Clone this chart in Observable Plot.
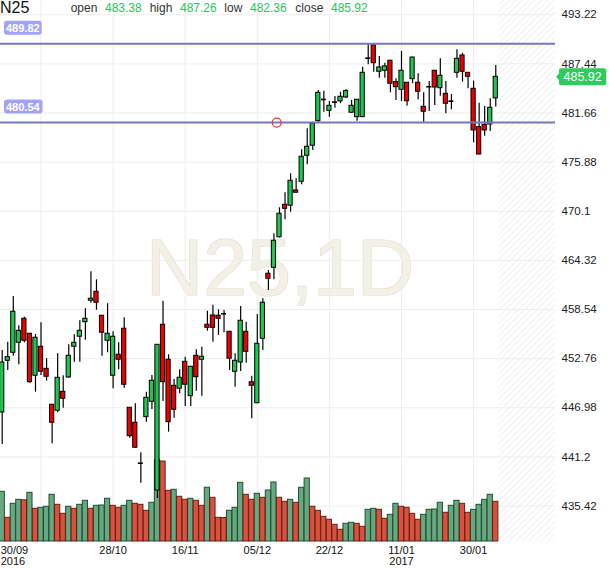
<!DOCTYPE html>
<html><head><meta charset="utf-8">
<script src="https://cdn.jsdelivr.net/npm/d3@7"></script>
<script src="https://cdn.jsdelivr.net/npm/@observablehq/plot@0.6"></script>
<style>
body{margin:0;background:#fff;font-family:"Liberation Sans",Arial,sans-serif;}
#wrap{position:relative;width:610px;height:568px;overflow:hidden;}
#hdr{position:absolute;left:0;top:0;width:560px;height:16px;}
#hdr span{position:absolute;white-space:nowrap;line-height:1;}
</style></head><body>
<div id="wrap"><div id="chart"></div><div id="hdr"></div></div>
<script>
const symbol = "N25";
const interval = "1D";
const opens = [446.43,452.51,453.45,454.63,457.45,455.69,450.75,454.16,451.57,447.34,
 446.63,448.86,450.55,454.16,455.34,457.05,459.57,460.63,457.81,454.86,
 450.75,453.22,456.28,446.98,445.22,440.46,445.88,447.69,437.25,456.75,
 452.63,449.57,449.22,452.39,448.35,453.10,452.63,456.75,457.84,457.81,
 458.04,455.92,451.22,452.31,455.92,449.99,447.52,455.10,462.75,463.45,
 467.05,470.86,470.75,472.55,473.57,476.63,477.81,480.70,483.25,481.92,
 482.94,483.02,483.49,481.69,481.17,481.17,488.11,489.62,486.51,486.63,
 487.81,485.29,484.39,485.22,485.64,485.22,482.39,484.75,486.63,484.58,
 483.92,483.05,486.39,488.43,486.39,484.51,479.99,480.28,480.31,483.38];
const highs = [453.72,454.70,460.08,456.63,457.64,455.72,455.61,456.98,452.75,447.38,
 453.34,450.75,454.39,455.57,457.22,458.63,462.98,462.04,457.85,459.22,
 455.92,454.63,457.57,447.02,447.45,441.69,448.82,450.78,454.43,459.52,
 453.22,450.31,451.45,452.94,451.85,453.81,454.11,458.35,459.05,458.51,
 458.43,455.96,453.34,458.90,457.05,450.70,457.96,459.81,463.14,467.45,
 470.51,472.28,474.51,473.92,477.34,479.81,480.58,484.31,484.23,483.02,
 483.61,484.11,484.43,483.14,483.26,487.05,489.82,489.66,488.31,487.52,
 487.85,485.69,488.90,485.26,488.23,486.28,484.04,485.37,486.67,488.04,
 485.37,483.84,489.10,488.70,486.43,485.41,482.82,482.43,483.34,487.26];
const lows = [442.66,451.37,453.05,452.04,454.63,449.88,448.82,450.78,450.11,442.75,
 446.39,446.94,450.46,452.35,452.35,454.94,459.29,458.46,453.05,453.45,
 449.22,451.45,449.29,443.41,442.24,438.11,445.29,446.78,436.31,447.72,
 444.11,445.76,448.63,447.14,447.14,448.94,448.35,455.99,454.70,455.49,
 455.81,451.37,449.41,451.25,452.23,445.69,447.45,453.72,460.78,462.04,
 466.94,469.10,469.99,472.25,473.22,475.57,477.25,480.58,481.76,481.17,
 482.23,482.75,483.37,481.61,480.70,481.13,487.34,486.46,485.76,485.76,
 484.04,483.14,483.02,482.46,485.10,483.22,480.58,481.84,482.55,483.64,
 481.57,482.04,485.76,485.29,484.51,478.16,476.74,478.94,479.49,482.36];
const closes = [452.31,452.94,458.28,456.04,454.86,449.99,455.22,451.22,450.63,445.22,
 450.51,448.04,453.10,454.63,456.04,457.45,459.81,459.34,455.81,455.69,
 455.34,452.63,449.69,443.64,442.28,440.46,448.16,450.16,454.39,449.99,
 445.29,446.75,450.51,449.69,451.81,450.58,452.98,456.39,456.39,457.45,
 458.04,452.75,452.51,457.22,453.57,449.57,454.51,459.34,462.16,466.63,
 469.81,470.39,473.69,472.28,476.51,477.69,480.39,484.04,483.25,482.51,
 482.94,483.57,484.23,482.51,483.22,486.39,488.11,487.52,487.02,487.14,
 485.10,484.70,486.63,483.05,488.19,484.16,481.81,484.75,484.66,486.04,
 482.75,483.05,488.04,486.51,485.92,479.61,476.78,479.61,482.28,485.92];
const volumes = [49.7,23.7,37.7,41.7,41.2,48.7,32.7,33.7,34.7,46.7,
 36.7,27.7,34.7,32.7,36.7,40.7,32.7,35.7,36.0,42.7,
 35.7,33.7,35.7,40.7,37.7,36.7,30.7,38.7,81.7,80.0,
 50.7,51.7,44.7,41.7,42.7,40.7,35.7,53.7,43.7,23.7,
 23.5,30.7,33.7,58.7,46.7,41.7,47.7,43.7,51.0,59.0,
 43.7,39.7,41.7,38.7,53.7,63.0,34.7,30.7,24.7,21.7,
 16.7,11.7,17.7,18.7,17.7,14.7,31.7,32.7,31.7,22.7,
 26.7,37.7,34.7,33.7,27.7,21.7,26.7,31.7,32.0,38.7,
 28.7,35.7,40.7,37.7,28.7,31.7,36.7,41.7,46.7,39.7];
const dateTickIdx = [0,20,33,46,59,72,85];
const dateTickLabels = ["30/09\n2016","28/10","16/11","05/12","22/12","11/01\n2017","30/01"];
const gridXIdx = [7,20,33,46,59,72,85];
const yTicks = [493.22,487.44,481.66,475.88,470.1,464.32,458.54,452.76,446.98,441.2,435.42];
const levels = [489.82,480.54];
const levelAnchorIdx = [49.5];
const headerLabels = ["open","high","low","close"];

const W = 610, H = 568, mRight = 55, mBottom = 27;
const yMin = 431.25, yMax = 494.896;
const xMin = -0.3065, xMax = 99.77;
const frameH = H - mBottom;
const volToPrice = v => yMin + v * (yMax - yMin) / frameH;

const candles = opens.map((o, i) => ({
  i, o, h: highs[i], l: lows[i], c: closes[i], v: volumes[i],
  vUp: i === 0 || volumes[i] > volumes[i - 1]
}));
const up = candles.filter(d => d.c > d.o);
const down = candles.filter(d => d.c < d.o);
const doji = candles.filter(d => d.c === d.o);
const dateRows = dateTickIdx.map((i, k) => ({i, label: dateTickLabels[k]}));
const last = candles[candles.length - 1];

const GREEN = "#22c552", RED = "#ee0000";
const font = "'Liberation Sans', Arial, sans-serif";

const plot = Plot.plot({
  width: W, height: H,
  marginLeft: 0, marginRight: mRight, marginTop: 0, marginBottom: mBottom,
  x: {domain: [xMin, xMax], axis: null},
  y: {domain: [yMin, yMax], axis: null},
  style: {background: "transparent", fontFamily: font, overflow: "visible"},
  marks: [
    Plot.text([symbol + "," + interval], {text: d => d, frameAnchor: "middle", fontSize: 79,
      fill: "#f3f0e8", stroke: "#e2dccb", strokeWidth: 1.2, dx: 2, dy: -1}),
    Plot.rect([{x1: 89.6, x2: xMax}], {x1: "x1", x2: "x2", fill: "url(#hatch)"}),
    Plot.gridY(yTicks, {stroke: "#ededed", strokeOpacity: 1}),
    Plot.gridX(gridXIdx, {stroke: "#ededed", strokeOpacity: 1}),
    Plot.rect(candles.filter(d => d.vUp), {x1: d => d.i - 0.47, x2: d => d.i + 0.47,
      y1: yMin, y2: d => volToPrice(d.v), fill: "#68a880", stroke: "#1e4f31", strokeWidth: 1}),
    Plot.rect(candles.filter(d => !d.vUp), {x1: d => d.i - 0.47, x2: d => d.i + 0.47,
      y1: yMin, y2: d => volToPrice(d.v), fill: "#d8533f", stroke: "#6b1d12", strokeWidth: 1}),
    Plot.ruleX(candles, {x: "i", y1: "l", y2: "h", stroke: "#000", strokeWidth: 1.2}),
    Plot.rect(up, {x1: d => d.i - 0.38, x2: d => d.i + 0.38, y1: "o", y2: "c",
      fill: GREEN, stroke: "#000", strokeWidth: 1}),
    Plot.rect(down, {x1: d => d.i - 0.38, x2: d => d.i + 0.38, y1: "o", y2: "c",
      fill: RED, stroke: "#000", strokeWidth: 1}),
    Plot.ruleY(doji, {x1: d => d.i - 0.45, x2: d => d.i + 0.45, y: "o", stroke: "#000", strokeWidth: 1.6}),
    Plot.ruleY(levels, {x1: xMin, x2: xMax, stroke: "#7777bd", strokeWidth: 2}),
    Plot.dot(levelAnchorIdx, {x: d => d, y: levels[1], r: 4.5, stroke: "#f03030", fill: "none", strokeWidth: 1.2}),
    Plot.axisY(yTicks, {anchor: "right", tickSize: 0, tickPadding: 6, fontSize: 11.5,
      fill: "#222", tickFormat: d => String(d)}),
    Plot.text(dateRows.slice(1), {x: "i", text: "label", frameAnchor: "bottom", lineAnchor: "top",
      dy: 4, lineHeight: 1.05, fontSize: 11, fill: "#111"}),
    Plot.text(dateRows.slice(0, 1), {x: "i", text: "label", frameAnchor: "bottom", lineAnchor: "top",
      dy: 4, dx: -1.5, lineHeight: 1.05, fontSize: 11, fill: "#111", textAnchor: "start"}),
    Plot.text(levels, {y: d => d, text: d => d.toFixed(2), frameAnchor: "left", dx: 5.5, dy: -15.5,
      textAnchor: "start", fontSize: 11, fontWeight: "bold", fill: "#fff"}),
    Plot.text([last], {y: "c", text: d => d.c.toFixed(2), frameAnchor: "right", dx: 8,
      textAnchor: "start", fontSize: 12.5, fill: "#fff"})
  ]
});
document.getElementById("chart").appendChild(plot);

// hatch pattern
const NS = "http://www.w3.org/2000/svg";
const defs = document.createElementNS(NS, "defs");
defs.innerHTML = '<pattern id="hatch" patternUnits="userSpaceOnUse" width="4.5" height="4.5" patternTransform="rotate(45)"><line x1="0" y1="0" x2="0" y2="4.5" stroke="#e6e6e6" stroke-width="1.2"/></pattern>';
plot.insertBefore(defs, plot.firstChild);

// label boxes behind the white texts
const levelStrs = new Set(levels.map(d => d.toFixed(2)));
const priceStr = last.c.toFixed(2);
function addBox(t, fill, px, py, rx, arrow) {
  const b = t.getBBox();
  const r = document.createElementNS(NS, "rect");
  r.setAttribute("x", b.x - px); r.setAttribute("y", b.y - py);
  r.setAttribute("width", b.width + 2 * px); r.setAttribute("height", b.height + 2 * py);
  r.setAttribute("rx", rx); r.setAttribute("fill", fill);
  const tr = t.getAttribute("transform"); if (tr) r.setAttribute("transform", tr);
  t.parentNode.insertBefore(r, t);
  if (arrow) {
    const p = document.createElementNS(NS, "path");
    const cy = b.y + b.height / 2, x0 = b.x - px;
    p.setAttribute("d", `M${x0 + 0.5},${cy - 4}L${x0 - 3},${cy}L${x0 + 0.5},${cy + 4}Z`);
    p.setAttribute("fill", fill);
    if (tr) p.setAttribute("transform", tr);
    t.parentNode.insertBefore(p, t);
  }
}
Array.from(plot.querySelectorAll("text")).forEach(t => {
  const g = t.parentNode;
  const isWhite = (g.getAttribute("fill") || t.getAttribute("fill") || "").toLowerCase() === "#fff";
  if (!isWhite) return;
  const s = t.textContent;
  if (levelStrs.has(s)) addBox(t, "#a3a3f6", 2, 1, 3, false);
  else if (s === priceStr) addBox(t, "#2ecc5e", 4.5, 1.5, 2, true);
});

// header
const hdr = document.getElementById("hdr");
const vals = [last.o, last.h, last.l, last.c];
const items = [{t: symbol, x: 0, size: 16, color: "#111", top: 0}];
const xs = [[70.7, 105], [149.7, 180], [224.3, 250], [295.3, 331]];
headerLabels.forEach((lab, k) => {
  items.push({t: lab, x: xs[k][0], size: 12, color: "#333", top: 2});
  items.push({t: vals[k].toFixed(2), x: xs[k][1], size: 12, color: "#27c65a", top: 2});
});
items.forEach(it => {
  const s = document.createElement("span");
  s.textContent = it.t; s.style.left = it.x + "px"; s.style.top = it.top + "px";
  s.style.fontSize = it.size + "px"; s.style.color = it.color;
  hdr.appendChild(s);
});
</script>
</body></html>
